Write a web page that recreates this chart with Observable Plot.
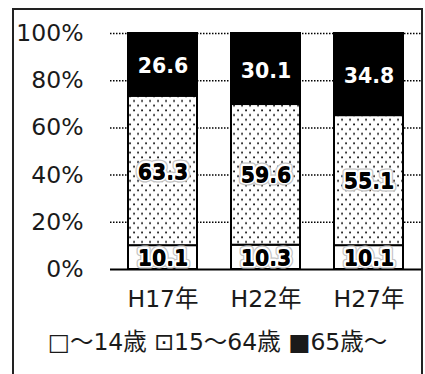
<!DOCTYPE html>
<html><head><meta charset="utf-8">
<script src="https://cdn.jsdelivr.net/npm/d3@7"></script>
<script src="https://cdn.jsdelivr.net/npm/@observablehq/plot@0.6"></script>
<style>
body{margin:0;background:#fff;width:425px;height:374px;overflow:hidden;position:relative;font-family:"DejaVu Sans","Noto Sans CJK JP",sans-serif;}
#frame{position:absolute;left:12px;top:8px;width:407px;height:380px;border:2px solid #222;}
#chart{position:absolute;left:0;top:0;}
#legend{position:absolute;left:14px;width:407px;top:327px;text-align:center;font-size:23.5px;line-height:30px;color:#1a1a1a;white-space:nowrap;}
</style></head><body>
<div id="frame"></div>
<div id="chart"></div>
<div id="legend"></div>
<script>
const years = ["H17年", "H22年", "H27年"];
const groups = ["～14歳", "15～64歳", "65歳～"];
const under14 = [10.1, 10.3, 10.1];
const working = [63.3, 59.6, 55.1];
const elderly = [26.6, 30.1, 34.8];
const yTicks = [0, 20, 40, 60, 80, 100];
const legendMarks = ["□", "⊡", "■"];

const series = [under14, working, elderly];
const rows = [];
groups.forEach((g, gi) => years.forEach((yr, i) => rows.push({year: yr, group: g, value: series[gi][i]})));

const defs = () => {
  const ns = "http://www.w3.org/2000/svg";
  const d = document.createElementNS(ns, "defs");
  d.innerHTML = `<pattern id="dots" patternUnits="userSpaceOnUse" width="8" height="9.4">
    <rect width="8" height="9.4" fill="white"/>
    <rect x="1.2" y="1.4" width="1.7" height="1.7" fill="black"/>
    <rect x="5.2" y="6.1" width="1.7" height="1.7" fill="black"/>
  </pattern>`;
  return d;
};

const stackOpts = (extra) => Plot.stackY({x: "year", y: "value", z: "group", order: null, ...extra});

const chart = Plot.plot({
  width: 425,
  height: 320,
  marginLeft: 110,
  marginRight: 4,
  marginTop: 33,
  marginBottom: 51,
  style: {fontFamily: '"DejaVu Sans","Noto Sans CJK JP",sans-serif', fontSize: "23.5px", color: "#1a1a1a", background: "transparent"},
  x: {domain: years, paddingInner: 1/3, paddingOuter: 1/6, tickSize: 0, tickPadding: 21, label: null},
  y: {domain: [0, 100], ticks: yTicks, tickFormat: d => d + "%", tickSize: 0, tickPadding: 27, label: null},
  color: {domain: groups, range: ["white", "url(#dots)", "black"]},
  marks: [
    defs,
    Plot.ruleY(yTicks.filter(d => d > 0), {stroke: "#000", strokeWidth: 1.5, strokeDasharray: "1.5,1.5"}),
    Plot.barY(rows, stackOpts({fill: "group", stroke: "black", strokeWidth: 2})),
    Plot.ruleY([0], {stroke: "black", strokeWidth: 2}),
    Plot.text(rows.filter(r => r.group !== groups[2]), stackOpts({text: d => d.value.toFixed(1), fill: "black", stroke: "#c4c4c4", strokeWidth: 7, fontWeight: "bold", fontSize: 20.5, dy: 1})),
    Plot.text(rows.filter(r => r.group !== groups[2]), stackOpts({text: d => d.value.toFixed(1), fill: "black", stroke: "white", strokeWidth: 4.5, fontWeight: "bold", fontSize: 20.5, dy: 1})),
    Plot.text(rows, stackOpts({text: d => d.value.toFixed(1), fill: d => d.group === groups[2] ? "white" : "black", fontWeight: "bold", fontSize: 20.5, dy: 2}))
  ]
});
document.getElementById("chart").appendChild(chart);
document.getElementById("legend").textContent = groups.map((g, i) => legendMarks[i] + g).join(" ");
</script>
</body></html>
